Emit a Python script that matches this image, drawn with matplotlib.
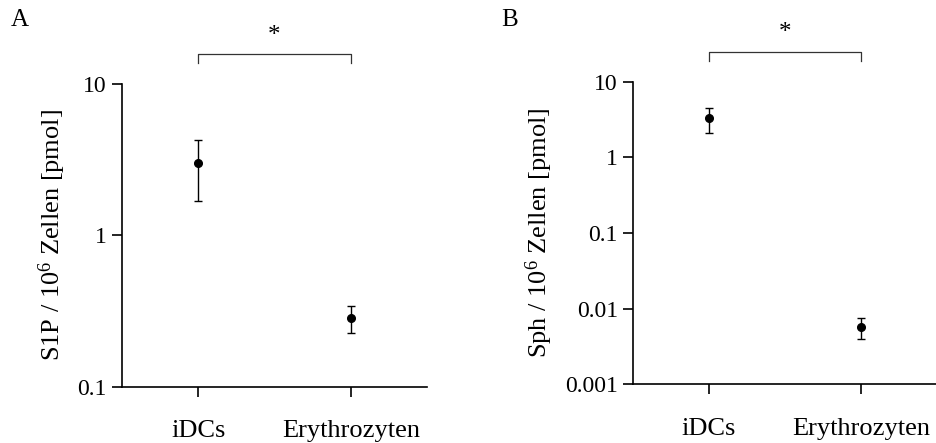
import matplotlib
matplotlib.use("Agg")
import matplotlib.pyplot as plt
from matplotlib import transforms

plt.rcParams['font.family'] = ['Liberation Serif', 'DejaVu Serif']
plt.rcParams['mathtext.fontset'] = 'custom'
plt.rcParams['mathtext.rm'] = 'Liberation Serif'
plt.rcParams['mathtext.it'] = 'Liberation Serif'

groups = ['iDCs', 'Erythrozyten']

# panel A: S1P
s1p_mean = [3.0, 0.284]
s1p_low = [1.69, 0.228]
s1p_high = [4.3, 0.343]

# panel B: Sph
sph_mean = [3.28, 0.0058]
sph_low = [2.12, 0.0040]
sph_high = [4.45, 0.0076]

fig = plt.figure(figsize=(9.37, 4.43), dpi=100)
axA = fig.add_axes([0.1302, 0.1264, 0.3255, 0.684])
axB = fig.add_axes([0.6756, 0.1325, 0.3244, 0.683])


def panel(ax, mean, low, high, ylim, yticks, ylabel, letter, letter_x):
    x = range(len(groups))
    err = [[m - l for m, l in zip(mean, low)], [h - m for m, h in zip(mean, high)]]
    ax.errorbar(x, mean, yerr=err, fmt='o', color='black', ms=5.5,
                elinewidth=1, capsize=3, capthick=1)
    ax.set_yscale('log')
    ax.set_ylim(*ylim)
    ax.set_xlim(-0.5, 1.5)
    ax.set_yticks(yticks)
    ax.set_yticklabels([('%g' % t) for t in yticks])
    ax.minorticks_off()
    ax.set_xticks(list(x))
    ax.set_xticklabels(groups)
    for s in ['top', 'right']:
        ax.spines[s].set_visible(False)
    for s in ['left', 'bottom']:
        ax.spines[s].set_linewidth(1.2)
    ax.tick_params(axis='both', direction='out', length=7, width=1.2)
    ax.tick_params(axis='y', pad=4, labelsize=17)
    ax.tick_params(axis='x', pad=17, labelsize=19)
    ax.set_ylabel(ylabel, fontsize=19, labelpad=7)

    # significance bracket
    tr = transforms.blended_transform_factory(ax.transData, ax.transAxes)
    ax.plot([0, 0, 1, 1], [1.068, 1.098, 1.098, 1.068], color='#333333', lw=0.9,
            transform=tr, clip_on=False)
    ax.text(0.5, 1.16, '*', transform=tr, ha='center', va='center', fontsize=18)
    fig.text(letter_x, 0.955, letter, fontsize=18, ha='left', va='center')


panel(axA, s1p_mean, s1p_low, s1p_high, (0.1, 10), [0.1, 1, 10],
      'S1P / 10$^{6}$ Zellen [pmol]', 'A', 0.012)
panel(axB, sph_mean, sph_low, sph_high, (0.001, 10), [0.001, 0.01, 0.1, 1, 10],
      'Sph / 10$^{6}$ Zellen [pmol]', 'B', 0.535)

fig.savefig('out.png', dpi=100)
